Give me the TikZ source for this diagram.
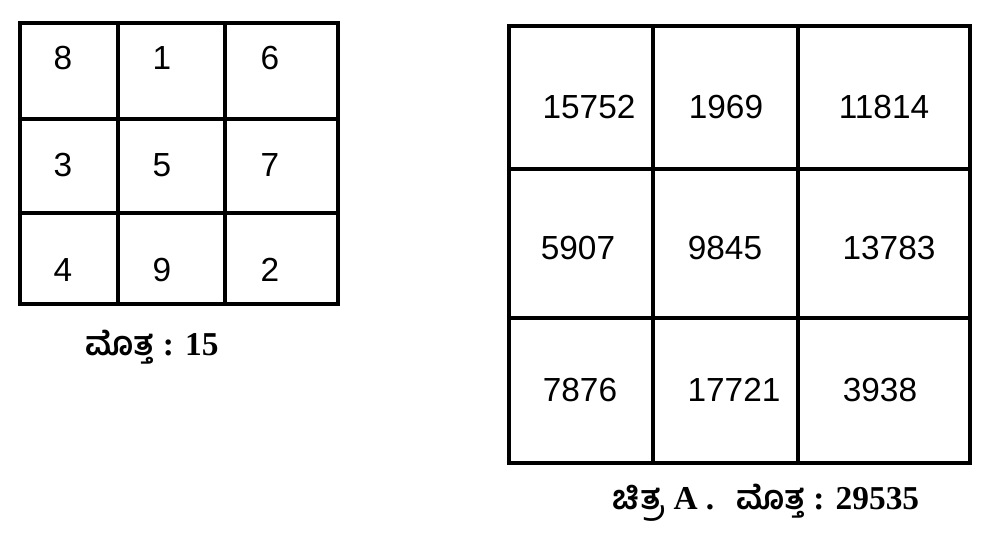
\documentclass[tikz,border=0pt]{standalone}
\usepackage{fontspec}
\setmainfont{Liberation Serif}
\setsansfont{Liberation Sans}
\newfontfamily\kannadafont[Script=Kannada]{Hind Mysuru}
\usepackage{tikz}
\usetikzlibrary{positioning}

\begin{document}
\begin{tikzpicture}[
			x=0.02cm, y=-0.02cm,
			grid/.style={line width=2.2pt},
			num/.style={font=\sffamily\fontsize{19}{22}\selectfont, inner sep=0pt},
			caption/.style={font=\bfseries\fontsize{19}{22}\selectfont, inner sep=0pt}
		]
		\useasboundingbox (0,0) rectangle (992,538);

		% small square
		\draw[grid] (20,23) rectangle (338,304);
		\draw[grid] (118,23) -- (118,304) (225,23) -- (225,304);
		\draw[grid] (20,119) -- (338,119) (20,213) -- (338,213);

		\node[num] (s11) at (63,58) {8};
		\node[num] (s12) at (162,58) {1};
		\node[num] (s13) at (270,58) {6};
		\node[num] (s21) at (63,165) {3};
		\node[num] (s22) at (162,165) {5};
		\node[num] (s23) at (270,165) {7};
		\node[num] (s31) at (63,270) {4};
		\node[num] (s32) at (162,270) {9};
		\node[num] (s33) at (270,270) {2};

		\node[caption] (sum) at (152,347) {{\kannadafont ಮೊತ್ತ} : 15};

		% big square
		\draw[grid] (509,26) rectangle (970,463);
		\draw[grid] (653,26) -- (653,463) (798,26) -- (798,463);
		\draw[grid] (509,169) -- (970,169) (509,318) -- (970,318);

		\node[num] (b11) at (589,107) {15752};
		\node[num] (b12) at (726,107) {1969};
		\node[num] (b13) at (884,107) {11814};
		\node[num] (b21) at (578,248) {5907};
		\node[num] (b22) at (725,248) {9845};
		\node[num] (b23) at (889,248) {13783};
		\node[num] (b31) at (580,390) {7876};
		\node[num] (b32) at (734,390) {17721};
		\node[num] (b33) at (880,390) {3938};

		\node[caption] (fig) at (766,503) {{\kannadafont ಚಿತ್ರ} A .\hspace{0.65em}{\kannadafont ಮೊತ್ತ} : 29535};

	\end{tikzpicture}
\end{document}
